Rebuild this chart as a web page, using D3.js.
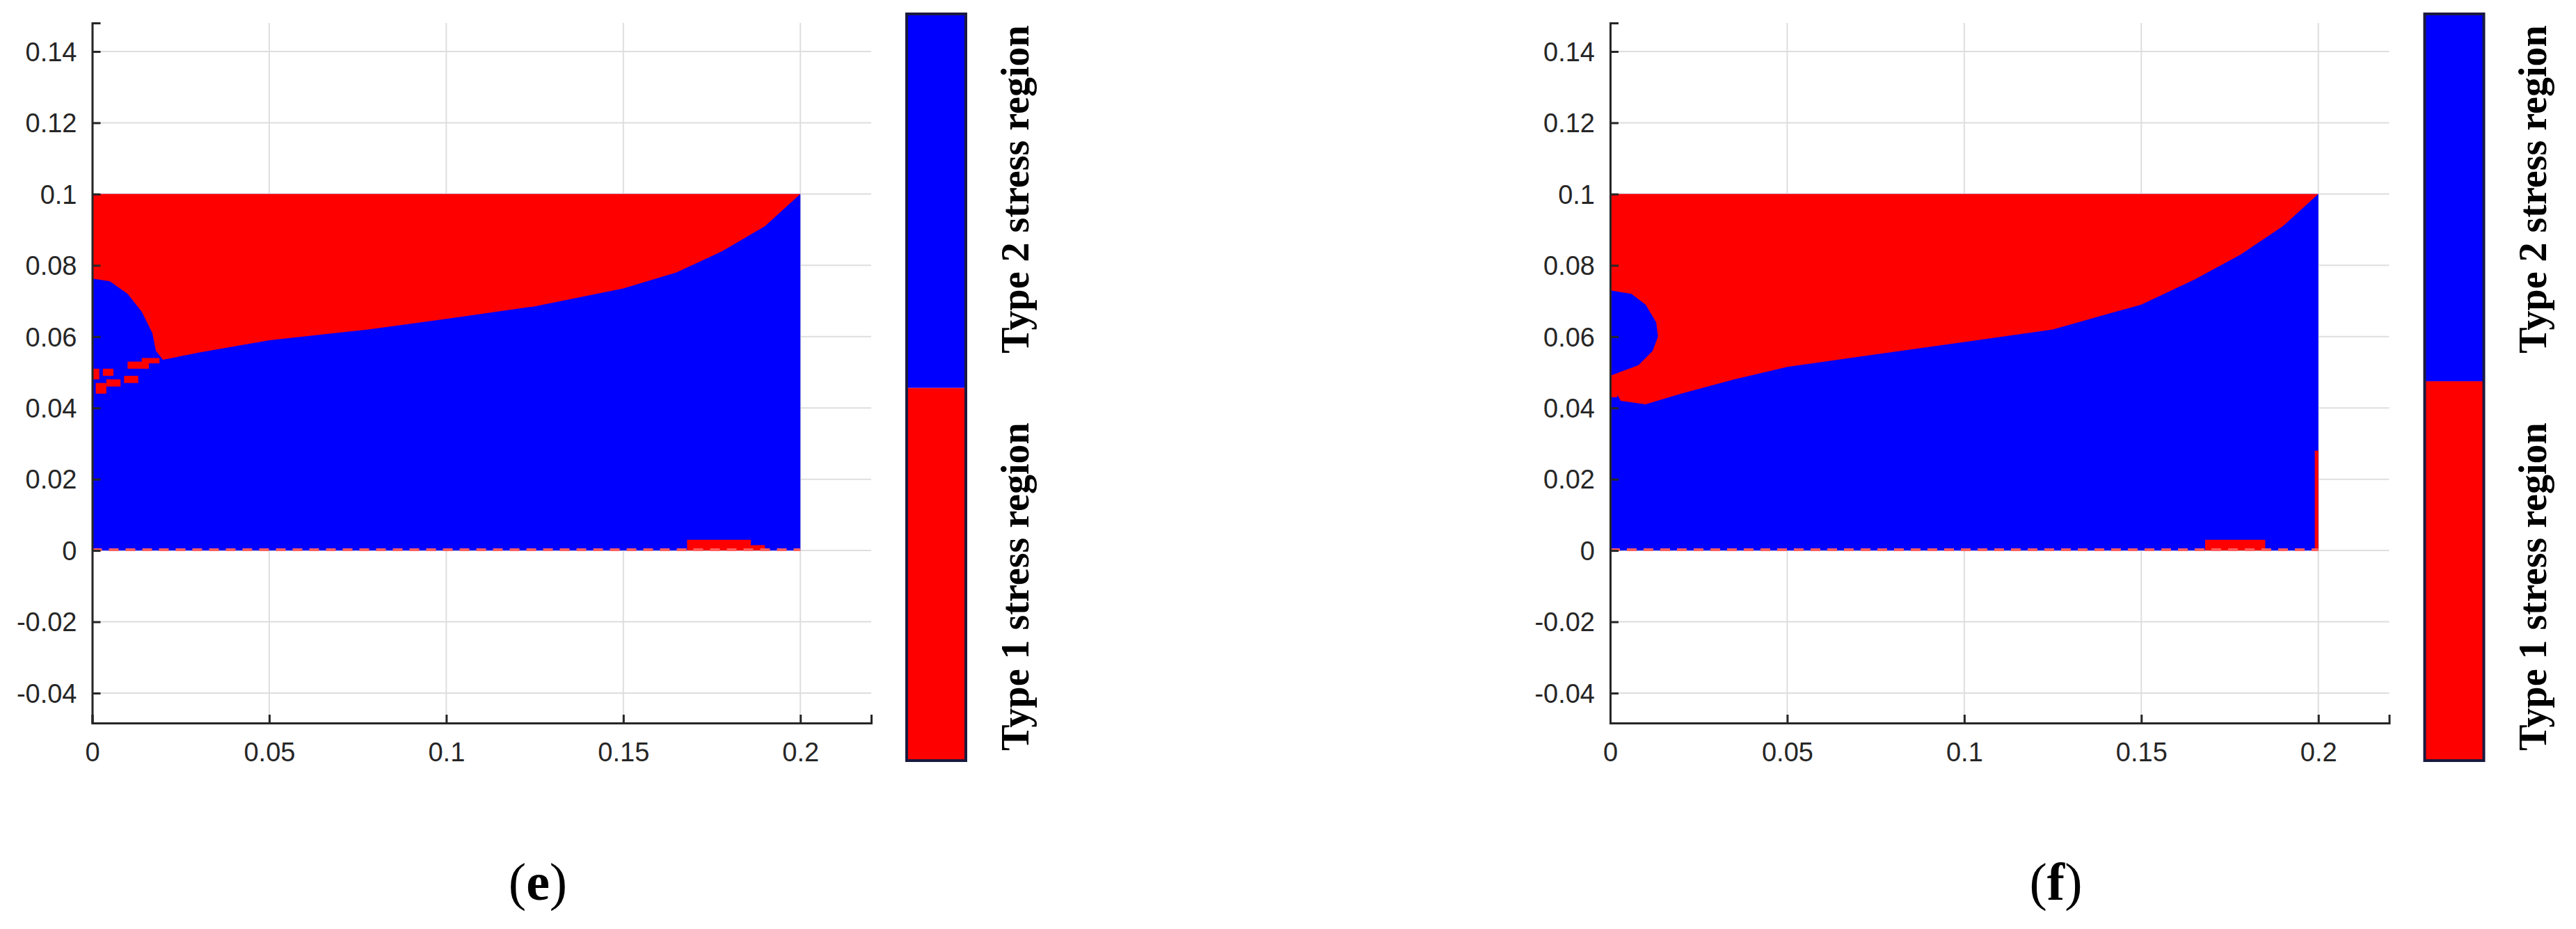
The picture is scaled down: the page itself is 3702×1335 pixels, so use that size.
<!DOCTYPE html>
<html><head><meta charset="utf-8">
<script src="https://cdn.jsdelivr.net/npm/d3@7"></script>
<style>body{margin:0;background:#fff}</style></head>
<body><svg id="c" width="3702" height="1335"></svg>
<script>
// ---- data ----
const xTicks=[0,0.05,0.1,0.15,0.2];
const yTicks=[-0.04,-0.02,0,0.02,0.04,0.06,0.08,0.1,0.12,0.14];
const xTickLabels=["0","0.05","0.1","0.15","0.2"];
const yTickLabels=["-0.04","-0.02","0","0.02","0.04","0.06","0.08","0.1","0.12","0.14"];
const domainRect=[0,0.2,0,0.1];
const panelLabels=["(e)","(f)"];
const legendLabels=["Type 2 stress region","Type 1 stress region"];
// boundary between red (above) and blue (below)
const boundaryE=[[0,0.0763],[0.005,0.0755],[0.010,0.072],[0.014,0.067],[0.017,0.061],[0.018,0.056],[0.020,0.0535],[0.03,0.0555],[0.05,0.059],[0.078,0.062],[0.1,0.065],[0.125,0.0685],[0.15,0.0735],[0.165,0.078],[0.178,0.084],[0.19,0.091],[0.2,0.1]];
const boundaryF=[[0,0.073],[0.006,0.072],[0.010,0.069],[0.013,0.064],[0.0135,0.060],[0.012,0.056],[0.008,0.052],[0,0.049],[0,0.047],[0.003,0.042],[0.01,0.041],[0.02,0.044],[0.035,0.048],[0.05,0.0515],[0.075,0.055],[0.1,0.0585],[0.125,0.062],[0.15,0.069],[0.165,0.076],[0.178,0.083],[0.19,0.091],[0.2,0.1]];
// red speckle patches [x0,x1,y0,y1]
const speckE=[[0.001,0.004,0.044,0.047],[0.004,0.008,0.046,0.048],[0.009,0.013,0.047,0.049],[0.003,0.006,0.049,0.051],[0.010,0.016,0.051,0.053],[0.0,0.002,0.048,0.051],[0.014,0.019,0.0525,0.054],[0.168,0.186,0.0,0.003],[0.186,0.19,0.0,0.0015]];
const speckF=[[0.168,0.185,0.0,0.003],[0.199,0.2,0.0,0.028],[0.0,0.002,0.043,0.047]];
const splitValues=[0.499,0.508];

// ---- layout ----
const svg=d3.select("#c");
const offsets=[0,2181.5];
const RED="#ff0000",BLUE="#0000ff",AX="#262626";
offsets.forEach((ox,i)=>{
  const g=svg.append("g").attr("transform",`translate(${ox},0)`);
  const x=d3.scaleLinear().domain([0,0.22]).range([132.5,1252]);
  const y=d3.scaleLinear().domain([-0.0484,0.148]).range([1039,33]);
  g.append("g").selectAll("line").data(xTicks).join("line")
    .attr("x1",d=>x(d)).attr("x2",d=>x(d)).attr("y1",y.range()[0]).attr("y2",y.range()[1])
    .attr("stroke","#dedede").attr("stroke-width",2);
  g.append("g").selectAll("line").data(yTicks).join("line")
    .attr("y1",d=>y(d)).attr("y2",d=>y(d)).attr("x1",x.range()[0]).attr("x2",x.range()[1])
    .attr("stroke","#dedede").attr("stroke-width",2);
  const [x0,x1,y0,y1]=domainRect;
  g.append("rect").attr("x",x(x0)).attr("y",y(y1)).attr("width",x(x1)-x(x0)).attr("height",y(y0)-y(y1)).attr("fill",BLUE);
  const b=i===0?boundaryE:boundaryF;
  const poly=[[x0,y1],...b,[x1,y1]];
  g.append("path").attr("d",d3.line().x(d=>x(d[0])).y(d=>y(d[1]))(poly)+"Z").attr("fill",RED);
  const sp=i===0?speckE:speckF;
  g.append("g").selectAll("rect").data(sp).join("rect")
    .attr("x",d=>x(d[0])).attr("width",d=>x(d[1])-x(d[0]))
    .attr("y",d=>y(d[3])).attr("height",d=>y(d[2])-y(d[3])).attr("fill",RED);
  g.append("line").attr("x1",x(0)).attr("x2",x(0.2)).attr("y1",y(0)-1).attr("y2",y(0)-1)
    .attr("stroke","#ff6060").attr("stroke-width",4).attr("stroke-dasharray","14,10");
  const ax=g.append("g").attr("transform",`translate(0,${y.range()[0]})`)
    .call(d3.axisBottom(x).tickValues(xTicks).tickFormat((d,k)=>xTickLabels[k]).tickSize(-12).tickPadding(28));
  const ay=g.append("g").attr("transform",`translate(${x.range()[0]},0)`)
    .call(d3.axisLeft(y).tickValues(yTicks).tickFormat((d,k)=>yTickLabels[k]).tickSize(-12).tickPadding(22));
  [ax,ay].forEach(a=>{
    a.select(".domain").attr("stroke",AX).attr("stroke-width",3);
    a.selectAll(".tick line").attr("stroke",AX).attr("stroke-width",3);
    a.selectAll("text").attr("fill",AX).attr("font-family","Liberation Sans, Arial").attr("font-size",38);
  });
  ay.selectAll("text").attr("dy","0.35em");
  ax.selectAll("text").attr("dy","0.71em");
  const cb=d3.scaleLinear().domain([0,1]).range([1093,20]);
  const cx=1303,cw=85;
  g.append("rect").attr("x",cx).attr("y",cb(1)).attr("width",cw).attr("height",cb(splitValues[i])-cb(1)).attr("fill",BLUE);
  g.append("rect").attr("x",cx).attr("y",cb(splitValues[i])).attr("width",cw).attr("height",cb(0)-cb(splitValues[i])).attr("fill",RED);
  g.append("rect").attr("x",cx).attr("y",cb(1)).attr("width",cw).attr("height",cb(0)-cb(1))
    .attr("fill","none").attr("stroke","#1a1a40").attr("stroke-width",4);
  const lab=[[legendLabels[0],272],[legendLabels[1],843]];
  lab.forEach(([t,cy])=>{
    g.append("text").attr("transform",`translate(1458,${cy}) rotate(-90)`)
      .attr("text-anchor","middle").attr("dy","0.35em")
      .attr("font-family","Liberation Serif, Times New Roman").attr("font-weight","bold")
      .attr("font-size",56).attr("fill","#000").text(t);
  });
  g.append("text").attr("x",773).attr("y",1293).attr("text-anchor","middle")
    .attr("font-family","Liberation Serif, Times New Roman").attr("font-size",76).attr("fill","#000")
    .html(`(<tspan font-weight="bold">${panelLabels[i].slice(1,2)}</tspan>)`);
});
</script></body></html>
